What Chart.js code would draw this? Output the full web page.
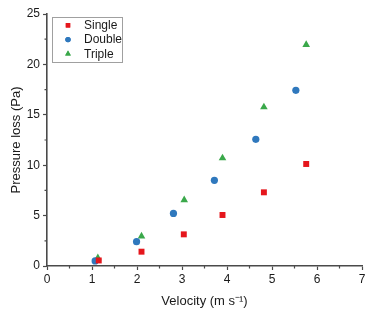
<!DOCTYPE html>
<html>
<head>
<meta charset="utf-8">
<script src="https://cdn.jsdelivr.net/npm/chart.js@4/dist/chart.umd.min.js"></script>
<style>
  html, body { margin: 0; padding: 0; background: #fff; }
  #wrap { width: 374px; height: 315px; }
</style>
</head>
<body>
<div id="wrap"><canvas id="chart"></canvas></div>
<script>
// series data
const seriesNames = ['Single', 'Double', 'Triple'];
const singleX = [1.15, 2.10, 3.04, 3.90, 4.82, 5.76];
const singleY = [0.55, 1.42, 3.14, 5.06, 7.31, 10.12];
const doubleX = [1.07, 1.99, 2.81, 3.72, 4.64, 5.53];
const doubleY = [0.50, 2.41, 5.22, 8.50, 12.57, 17.43];
const tripleX = [1.13, 2.10, 3.05, 3.90, 4.82, 5.76];
const tripleY = [0.80, 2.95, 6.55, 10.70, 15.77, 21.95];

const xTicks = [0, 1, 2, 3, 4, 5, 6, 7];
const yTicks = [0, 5, 10, 15, 20, 25];

const COLORS = ['#e5161c', '#2f78bd', '#3aa84a'];
const STYLES = ['rect', 'circle', 'triangle'];
const RADII = [4.2, 3.6, 4.4];

const AXIS_COLOR = '#4a4a4a';
const TEXT_COLOR = '#1a1a1a';
const FONT = 'Liberation Sans, Arial, sans-serif';

function toPoints(xs, ys) {
    return xs.map((x, i) => ({ x: x, y: ys[i] }));
}

const allSeries = [toPoints(singleX, singleY), toPoints(doubleX, doubleY), toPoints(tripleX, tripleY)];

const datasets = allSeries.map((pts, i) => ({
    label: seriesNames[i],
    data: pts,
    pointStyle: STYLES[i],
    pointRadius: RADII[i],
    pointHoverRadius: RADII[i],
    backgroundColor: COLORS[i],
    borderColor: COLORS[i],
    borderWidth: 0,
    showLine: false,
}));

// minor ticks at the half steps, drawn outward like the major ones
const minorTicks = {
    id: 'minorTicks',
    afterDraw(chart) {
        const ctx = chart.ctx;
        const xs = chart.scales.x, ys = chart.scales.y;
        const area = chart.chartArea;
        ctx.save();
        ctx.strokeStyle = AXIS_COLOR;
        ctx.lineWidth = 1.2;
        ctx.beginPath();
        for (let i = 0; i < xTicks.length - 1; i++) {
            const px = xs.getPixelForValue((xTicks[i] + xTicks[i + 1]) / 2);
            ctx.moveTo(px, area.bottom);
            ctx.lineTo(px, area.bottom + 2.5);
        }
        for (let i = 0; i < yTicks.length - 1; i++) {
            const py = ys.getPixelForValue((yTicks[i] + yTicks[i + 1]) / 2);
            ctx.moveTo(area.left, py);
            ctx.lineTo(area.left - 2.5, py);
        }
        ctx.stroke();
        ctx.restore();
    }
};

// framed legend in the top left corner of the plot
const boxedLegend = {
    id: 'boxedLegend',
    afterDraw(chart) {
        const ctx = chart.ctx;
        const area = chart.chartArea;
        const left = area.left + 5.5, top = area.top + 3.5;
        const w = 70, h = 45;
        ctx.save();
        ctx.strokeStyle = '#a0a0a0';
        ctx.lineWidth = 1;
        ctx.strokeRect(left, top, w, h);
        ctx.font = '12px ' + FONT;
        ctx.textBaseline = 'middle';
        ctx.textAlign = 'left';
        chart.data.datasets.forEach((ds, i) => {
            const cy = top + 7.8 + i * 14.3;
            ctx.fillStyle = ds.backgroundColor;
            Chart.helpers.drawPoint(ctx, { pointStyle: ds.pointStyle, radius: ds.pointRadius * 0.75, borderWidth: 0 }, left + 15.5, cy);
            ctx.fill();
            ctx.fillStyle = TEXT_COLOR;
            ctx.fillText(ds.label, left + 31.5, cy + 0.5);
        });
        ctx.restore();
    }
};

const config = {
    type: 'scatter',
    data: { datasets: datasets },
    options: {
        responsive: true,
        maintainAspectRatio: false,
        animation: false,
        layout: { padding: { top: 14, right: 12, left: 0, bottom: 0 } },
        plugins: {
            legend: { display: false },
            tooltip: { enabled: false },
        },
        scales: {
            x: {
                type: 'linear',
                min: xTicks[0],
                max: xTicks[xTicks.length - 1],
                afterBuildTicks: s => { s.ticks = xTicks.map(v => ({ value: v })); },
                afterFit: s => { s.height = 49; },
                grid: { drawOnChartArea: false, drawTicks: true, tickLength: 4, tickWidth: 1.2, tickColor: AXIS_COLOR },
                border: { display: true, color: AXIS_COLOR, width: 1.6 },
                ticks: { color: TEXT_COLOR, font: { family: FONT, size: 12 }, padding: 2, maxRotation: 0 },
                title: {
                    display: true,
                    text: 'Velocity (m s⁻¹)',
                    color: TEXT_COLOR,
                    font: { family: FONT, size: 13 },
                    padding: { top: 0, bottom: 5.5 },
                },
            },
            y: {
                type: 'linear',
                min: yTicks[0],
                max: yTicks[yTicks.length - 1],
                afterBuildTicks: s => { s.ticks = yTicks.map(v => ({ value: v })); },
                afterFit: s => { s.width = 47; },
                grid: { drawOnChartArea: false, drawTicks: true, tickLength: 4, tickWidth: 1.2, tickColor: AXIS_COLOR },
                border: { display: true, color: AXIS_COLOR, width: 1.6 },
                ticks: { color: TEXT_COLOR, font: { family: FONT, size: 12 }, padding: 3 },
                title: {
                    display: true,
                    text: 'Pressure loss (Pa)',
                    color: TEXT_COLOR,
                    font: { family: FONT, size: 13 },
                    padding: { top: 9, bottom: 0 },
                },
            },
        },
    },
    plugins: [minorTicks, boxedLegend],
};

const chart = new Chart(document.getElementById('chart'), config);
</script>
</body>
</html>
